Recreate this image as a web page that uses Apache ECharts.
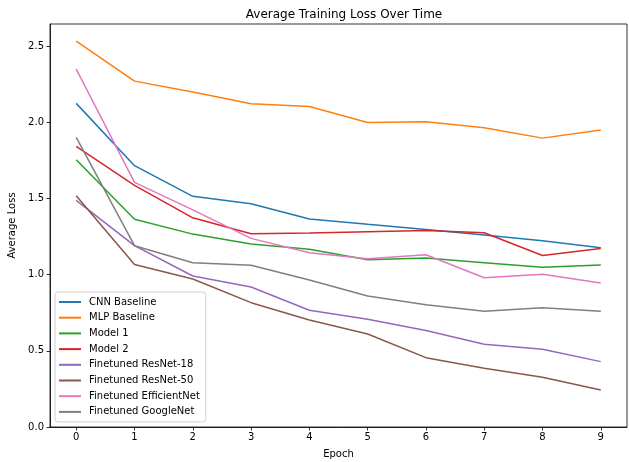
<!DOCTYPE html>
<html>
<head>
<meta charset="utf-8">
<script src="https://cdn.jsdelivr.net/npm/echarts@6/dist/echarts.min.js"></script>
<style>
  html, body { margin: 0; padding: 0; background: #fff; }
  #chart { width: 629px; height: 462px; }
</style>
</head>
<body>
<div id="chart"></div>
<script>
// data
const epochs = [0, 1, 2, 3, 4, 5, 6, 7, 8, 9];
const yTicks = [0, 0.5, 1.0, 1.5, 2.0, 2.5];

const cnnBaseline   = [2.124, 1.715, 1.514, 1.465, 1.365, 1.330, 1.297, 1.260, 1.222, 1.177];
const mlpBaseline   = [2.533, 2.270, 2.198, 2.122, 2.104, 1.999, 2.003, 1.964, 1.896, 1.949];
const model1        = [1.754, 1.363, 1.266, 1.201, 1.166, 1.098, 1.109, 1.078, 1.048, 1.063];
const model2        = [1.842, 1.586, 1.373, 1.269, 1.273, 1.282, 1.290, 1.275, 1.126, 1.172];
const resnet18      = [1.487, 1.190, 0.991, 0.919, 0.766, 0.707, 0.634, 0.543, 0.510, 0.429];
const resnet50      = [1.518, 1.067, 0.971, 0.816, 0.702, 0.610, 0.455, 0.385, 0.326, 0.243];
const efficientNet  = [2.349, 1.606, 1.425, 1.238, 1.144, 1.105, 1.131, 0.980, 1.002, 0.945];
const googleNet     = [1.901, 1.190, 1.078, 1.061, 0.965, 0.860, 0.803, 0.759, 0.783, 0.759];

const seriesList = [
  { name: 'CNN Baseline', data: cnnBaseline, color: '#1f77b4' },
  { name: 'MLP Baseline', data: mlpBaseline, color: '#ff7f0e' },
  { name: 'Model 1', data: model1, color: '#2ca02c' },
  { name: 'Model 2', data: model2, color: '#d62728' },
  { name: 'Finetuned ResNet-18', data: resnet18, color: '#9467bd' },
  { name: 'Finetuned ResNet-50', data: resnet50, color: '#8c564b' },
  { name: 'Finetuned EfficientNet', data: efficientNet, color: '#e377c2' },
  { name: 'Finetuned GoogleNet', data: googleNet, color: '#7f7f7f' }
];

const font = 'DejaVu Sans';

const chart = echarts.init(document.getElementById('chart'));
chart.setOption({
  animation: false,
  textStyle: { fontFamily: font },
  title: {
    text: 'Average Training Loss Over Time',
    left: 339,
    textAlign: 'center',
    top: 4,
    textStyle: { fontFamily: font, fontSize: 12, fontWeight: 'normal', color: '#000' }
  },
  legend: {
    orient: 'vertical',
    left: 55,
    top: 292,
    padding: [5, 6, 5, 4],
    itemGap: 5.7,
    itemWidth: 22,
    itemHeight: 2,
    icon: 'rect',
    backgroundColor: 'rgba(255,255,255,0.8)',
    borderColor: '#d0d0d0',
    borderWidth: 1,
    borderRadius: 3,
    textStyle: { fontFamily: font, fontSize: 10, color: '#000', padding: [0, 0, 0, 3] },
    data: seriesList.map(s => s.name)
  },
  grid: {
    left: 50,
    right: 2,
    top: 24,
    bottom: 35,
    show: true,
    borderColor: '#000',
    borderWidth: 0.8,
    containLabel: false,
    outerBoundsMode: 'none'
  },
  xAxis: {
    type: 'value',
    min: -0.45,
    max: 9.45,
    name: 'Epoch',
    nameLocation: 'middle',
    nameGap: 22,
    nameTextStyle: { fontFamily: font, fontSize: 10, color: '#000' },
    axisLine: { show: true, onZero: false, lineStyle: { color: '#000', width: 0.8 } },
    axisTick: { show: true, length: 3.5, customValues: epochs, lineStyle: { color: '#000', width: 0.8 } },
    axisLabel: { customValues: epochs, fontSize: 10, color: '#000', margin: 5 },
    splitLine: { show: false }
  },
  yAxis: {
    type: 'value',
    min: 0,
    max: 2.645,
    name: 'Average Loss',
    nameLocation: 'middle',
    nameGap: 30,
    nameRotate: 90,
    nameTextStyle: { fontFamily: font, fontSize: 10, color: '#000' },
    axisLine: { show: true, onZero: false, lineStyle: { color: '#000', width: 0.8 } },
    axisTick: { show: true, length: 3.5, customValues: yTicks, lineStyle: { color: '#000', width: 0.8 } },
    axisLabel: { customValues: yTicks, fontSize: 10, color: '#000', margin: 6, formatter: v => v.toFixed(1) },
    splitLine: { show: false }
  },
  series: seriesList.map(s => ({
    name: s.name,
    type: 'line',
    data: epochs.map((e, i) => [e, s.data[i]]),
    showSymbol: false,
    symbol: 'none',
    color: s.color,
    lineStyle: { color: s.color, width: 1.5 }
  }))
});
</script>
</body>
</html>
